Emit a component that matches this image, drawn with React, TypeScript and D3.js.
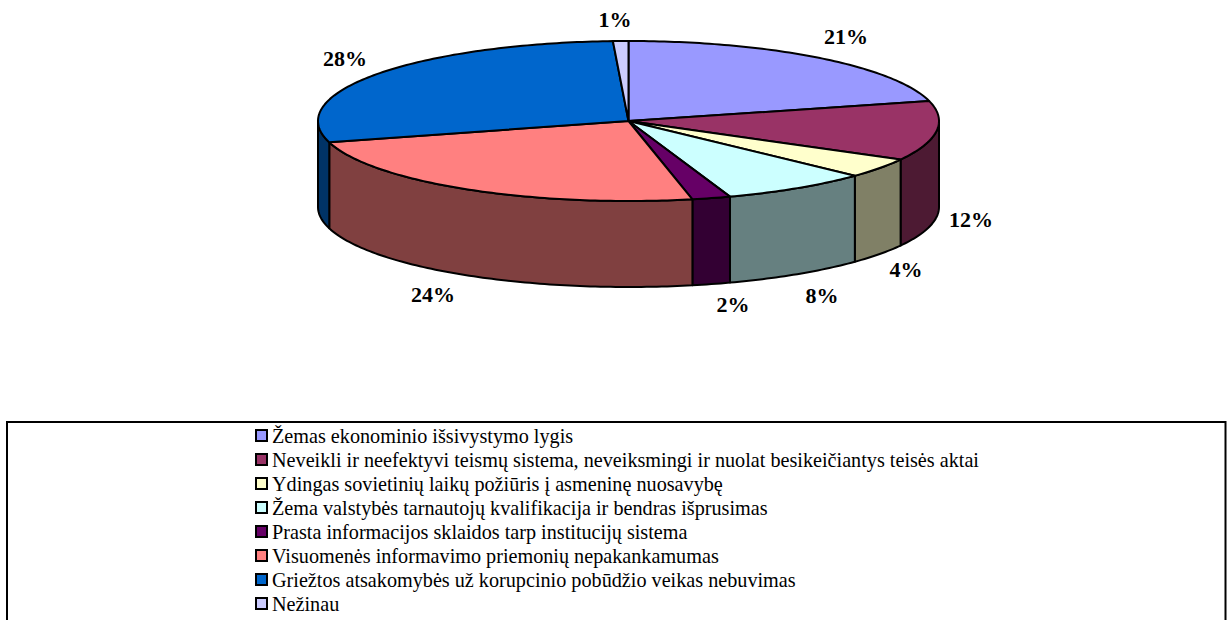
import React from "react";
import * as d3 from "d3";

const categories = [
  "Žemas ekonominio išsivystymo lygis",
  "Neveikli ir neefektyvi teismų sistema, neveiksmingi ir nuolat besikeičiantys teisės aktai",
  "Ydingas sovietinių laikų požiūris į asmeninę nuosavybę",
  "Žema valstybės tarnautojų kvalifikacija ir bendras išprusimas",
  "Prasta informacijos sklaidos tarp institucijų sistema",
  "Visuomenės informavimo priemonių nepakankamumas",
  "Griežtos atsakomybės už korupcinio pobūdžio veikas nebuvimas",
  "Nežinau",
];
const values = [21, 12, 4, 7.7, 2, 24, 28.5, 0.8];
const percentLabels = ["21%", "12%", "4%", "8%", "2%", "24%", "28%", "1%"];
const topColors = ["#9999FF", "#993366", "#FFFFCC", "#CCFFFF", "#660066", "#FF8080", "#0066CC", "#CCCCFF"];
const sideColors = ["#4D4D80", "#4D1A33", "#808066", "#668080", "#330033", "#804040", "#003366", "#666680"];
const labelAnchors = [
  [846, 39], [971, 222], [906, 272], [822, 298], [733, 307], [433, 297], [345, 61], [615, 22],
];

const W = 1227, H = 620;
const cx = 628.5, cy = 121, rx = 310.5, ry = 80, depth = 86;
const serif = "'Liberation Serif', 'Times New Roman', serif";
const px = d3.scaleLinear().domain([-1, 1]).range([cx - rx, cx + rx]);
const py = d3.scaleLinear().domain([-1, 1]).range([cy - ry, cy + ry]);
const line = d3.line<[number, number]>();

function rim(a0: number, a1: number, dy = 0): [number, number][] {
  const n = Math.max(2, Math.ceil(Math.abs(a1 - a0) * 60));
  return d3.range(n + 1).map((i) => {
    const a = a0 + ((a1 - a0) * i) / n;
    return [px(Math.sin(a)), py(-Math.cos(a)) + dy] as [number, number];
  });
}

const pie = d3.pie<number>().sort(null).value((d) => d)(values);

// visible part of the side wall lies between 90° and 270° (the front half of the ellipse)
const sides = pie
  .map((s, i) => {
    const a0 = Math.max(s.startAngle, Math.PI / 2);
    const a1 = Math.min(s.endAngle, (3 * Math.PI) / 2);
    if (a1 <= a0) return null;
    const pts = [...rim(a0, a1), ...rim(a1, a0, depth)];
    return { i, d: line(pts)! + "Z" };
  })
  .filter(Boolean) as { i: number; d: string }[];

export default function App() {
  const legendX = 256, legendY0 = 435.5, legendStep = 24;
  return (
    <svg
      width={W}
      height={H}
      viewBox={`0 0 ${W} ${H}`}
      style={{ position: "absolute", left: 0, top: 0, background: "#fff" }}
    >
      {sides.map((s) => (
        <path key={s.i} d={s.d} fill={sideColors[s.i]} stroke="#000" strokeWidth={2} strokeLinejoin="round" />
      ))}
      {pie.map((s, i) => (
        <path
          key={i}
          d={line([[cx, cy], ...rim(s.startAngle, s.endAngle)])! + "Z"}
          fill={topColors[i]}
          stroke="#000"
          strokeWidth={2}
          strokeLinejoin="round"
        />
      ))}
      {percentLabels.map((t, i) => (
        <text
          key={t}
          x={labelAnchors[i][0]}
          y={labelAnchors[i][1]}
          textAnchor="middle"
          dominantBaseline="middle"
          fontFamily={serif}
          fontWeight="bold"
          fontSize={22}
          fill="#000"
        >
          {t}
        </text>
      ))}
      <rect x={7} y={422} width={1218.5} height={210} fill="none" stroke="#000" strokeWidth={2} />
      {categories.map((c, i) => (
        <g key={c}>
          <rect
            x={legendX}
            y={legendY0 + i * legendStep - 5.5}
            width={11}
            height={11}
            fill={topColors[i]}
            stroke="#000"
            strokeWidth={2}
          />
          <text
            x={legendX + 16}
            y={legendY0 + i * legendStep + 7}
            fontFamily={serif}
            fontSize={20.2}
            fill="#000"
          >
            {c}
          </text>
        </g>
      ))}
    </svg>
  );
}
